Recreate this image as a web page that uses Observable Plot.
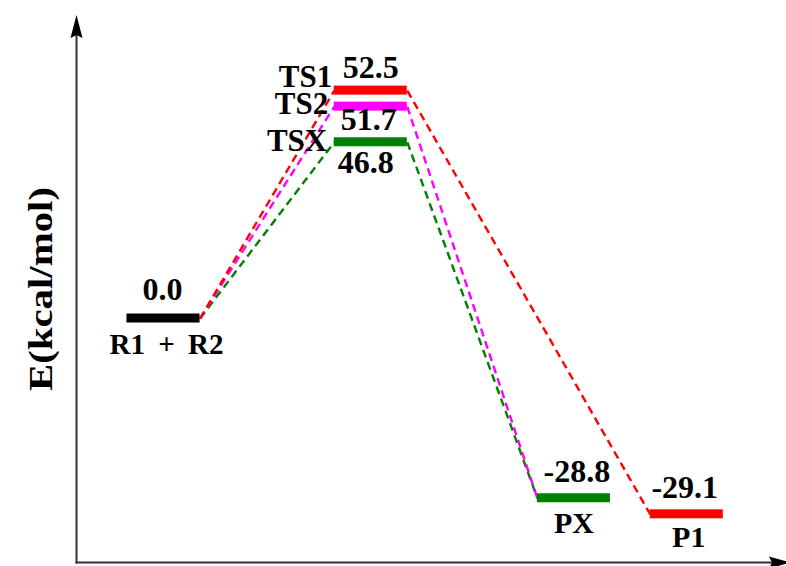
<!DOCTYPE html>
<html>
<head>
<meta charset="utf-8">
<script src="https://cdn.jsdelivr.net/npm/d3@7"></script>
<script src="https://cdn.jsdelivr.net/npm/@observablehq/plot@0.6"></script>
<style>
  html, body { margin: 0; padding: 0; background: #fff; }
  #chart svg { display: block; }
  #chart svg text { font-family: "Liberation Serif", "Times New Roman", serif !important; font-weight: bold; }
</style>
</head>
<body>
<div id="chart"></div>
<script>
// ---- data ----
const species = ["R1 + R2", "TS1", "TS2", "TSX", "PX", "P1"];
const energies = [0.0, 52.5, 51.7, 46.8, -28.8, -29.1];        // kcal/mol (labels)
const drawnLevel = [0, 52.5, 48.8, 40.6, -41.4, -45.1];        // schematic height as drawn
const stage = [0, 1.01, 1.01, 1.01, 2.0, 2.55];                // reaction coordinate
const pathways = [
  ["R1 + R2", "TSX", "PX"],
  ["R1 + R2", "TS2", "PX"],
  ["R1 + R2", "TS1", "P1"]
];
const yTitle = "E(kcal/mol)";
const speciesColors = ["black", "#ff0000", "#ff00ff", "#008000", "#008000", "#ff0000"];

// ---- derived tables ----
const halfWidth = 0.178;
const levels = species.map((s, i) => ({
  name: s, energy: energies[i], level: drawnLevel[i], x: stage[i],
  label: energies[i].toFixed(1)
}));
const bySpecies = Object.fromEntries(levels.map(d => [d.name, d]));
const links = [];
for (const p of pathways) {
  const ts = p[1];
  for (let k = 0; k < p.length - 1; k++) {
    const a = bySpecies[p[k]], b = bySpecies[p[k + 1]];
    links.push({ ts, x1: a.x + halfWidth, y1: a.level, x2: b.x - halfWidth, y2: b.level });
  }
}

const xDomain = [-0.424, 3.036];
const yDomain = [-56.2, 69.8];
const font = '"Liberation Serif", "Times New Roman", serif';

function pick(names) { return levels.filter(d => names.includes(d.name)); }
function txt(data, opts) {
  return Plot.text(data, Object.assign({
    fontFamily: font, fontWeight: "bold", fontSize: 32, fill: "black",
    lineAnchor: "bottom", textAnchor: "middle", y: "level"
  }, opts));
}

// axes with arrowheads, drawn from the scales
function axesMark(index, scales, values, dims) {
  const g = d3.create("svg:g");
  const x0 = scales.x(xDomain[0]) + 0.5;
  const y0 = scales.y(yDomain[0]) + 0.5;
  const top = scales.y(yDomain[1]);
  const right = scales.x(xDomain[1]);
  g.append("line").attr("x1", x0).attr("x2", x0).attr("y1", top + 18).attr("y2", y0 + 1)
    .attr("stroke", "#333").attr("stroke-width", 2);
  g.append("line").attr("x1", x0 - 1).attr("x2", right - 10).attr("y1", y0).attr("y2", y0)
    .attr("stroke", "#333").attr("stroke-width", 2);
  g.append("path")
    .attr("d", `M${x0},${top} L${x0 - 6},${top + 23} L${x0},${top + 20} L${x0 + 6},${top + 23} Z`)
    .attr("fill", "black");
  g.append("path")
    .attr("d", `M${right + 5},${y0} L${right - 17},${y0 - 6} L${right - 14},${y0} L${right - 17},${y0 + 6} Z`)
    .attr("fill", "black");
  return g.node();
}

const chart = Plot.plot({
  width: 786,
  height: 566,
  marginLeft: 76,
  marginRight: 0,
  marginTop: 15,
  marginBottom: 4,
  style: { fontFamily: font },
  x: { domain: xDomain, axis: null },
  y: { domain: yDomain, axis: null },
  color: { domain: species, range: speciesColors },
  marks: [
    axesMark,
    Plot.link(links, {
      x1: "x1", y1: "y1", x2: "x2", y2: "y2",
      stroke: d => bySpecies[d.ts].name, strokeWidth: 2.4, strokeDasharray: "8,5"
    }),
    Plot.rect(levels, {
      x1: d => d.x - halfWidth, x2: d => d.x + halfWidth,
      y1: d => d.level, y2: d => d.level,
      insetTop: -4.5, insetBottom: -4.5,
      fill: "name"
    }),
    // energy values
    txt(pick(["R1 + R2"]), { x: "x", text: "label", dy: -19, dx: -1 }),
    txt(pick(["TS1"]), { x: "x", text: "label", dy: -13 }),
    txt(pick(["TS2"]), { x: "x", text: "label", dy: 23, dx: -2 }),
    txt(pick(["TSX"]), { x: "x", text: "label", dy: 31, dx: -5 }),
    txt(pick(["PX"]), { x: "x", text: "label", dy: -16, dx: 3 }),
    txt(pick(["P1"]), { x: "x", text: "label", dy: -16, dx: -2 }),
    // species names
    txt(pick(["R1 + R2"]), { x: "x", text: "name", dy: 35, dx: 3, fontSize: 29 }),
    txt(pick(["PX"]), { x: "x", text: "name", dy: 35, fontSize: 30 }),
    txt(pick(["P1"]), { x: "x", text: "name", dy: 33, dx: 2, fontSize: 30 }),
    txt(pick(["TS1"]), { x: d => d.x - halfWidth, text: "name", textAnchor: "end", dy: -4, dx: -2, fontSize: 31 }),
    txt(pick(["TS2"]), { x: d => d.x - halfWidth, text: "name", textAnchor: "end", dy: 7, dx: -6, fontSize: 31 }),
    txt(pick(["TSX"]), { x: d => d.x - halfWidth, text: "name", textAnchor: "end", dy: 9, dx: -7, fontSize: 31 }),
    // y-axis title
    Plot.text([yTitle], {
      frameAnchor: "left", dx: -35, rotate: -90, text: d => d,
      fontFamily: font, fontWeight: "bold", fontSize: 33, fill: "black"
    })
  ]
});

// typographic tweaks to match the reference's wide bold serif lettering
const titleLen = 204;
d3.select(chart).selectAll("text")
  .filter(function () { return this.textContent === yTitle; })
  .attr("text-anchor", "start")
  .attr("x", -titleLen / 2)
  .attr("textLength", titleLen).attr("lengthAdjust", "spacingAndGlyphs");
d3.select(chart).selectAll("text")
  .filter(function () { return this.textContent === "R1 + R2"; })
  .style("word-spacing", "6px");

document.getElementById("chart").appendChild(chart);
</script>
</body>
</html>
